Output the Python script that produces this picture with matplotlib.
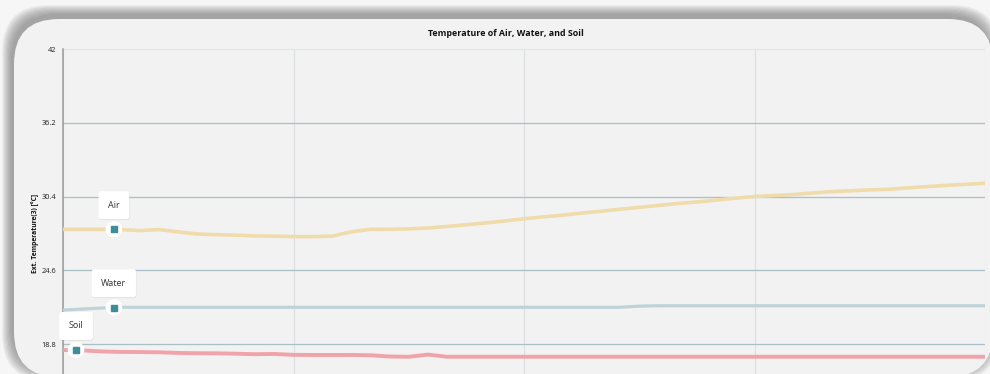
import numpy as np
import matplotlib
matplotlib.use("Agg")
import matplotlib.pyplot as plt
from matplotlib.patches import FancyBboxPatch
import matplotlib.patheffects as pe

plt.rcParams["font.family"] = ["Open Sans", "DejaVu Sans"]

# ---- data -------------------------------------------------------------
hours = list(range(49))

air = [27.82, 27.82, 27.82, 27.80, 27.72, 27.80, 27.62, 27.45, 27.40, 27.36,
       27.30, 27.28, 27.25, 27.25, 27.28, 27.62, 27.82, 27.82, 27.86, 27.92,
       28.05, 28.18, 28.32, 28.48, 28.65, 28.80, 28.93, 29.10, 29.24, 29.40,
       29.55, 29.70, 29.85, 29.97, 30.12, 30.27, 30.40, 30.48, 30.55, 30.68,
       30.78, 30.85, 30.92, 30.97, 31.08, 31.18, 31.28, 31.36, 31.44]

water = [21.47, 21.55, 21.63, 21.69, 21.69, 21.69, 21.69, 21.69, 21.69, 21.69,
         21.69, 21.69, 21.69, 21.69, 21.69, 21.69, 21.69, 21.69, 21.69, 21.69,
         21.69, 21.69, 21.69, 21.69, 21.69, 21.69, 21.69, 21.69, 21.69, 21.69,
         21.78, 21.81, 21.81, 21.81, 21.81, 21.81, 21.81, 21.81, 21.81, 21.81,
         21.81, 21.81, 21.81, 21.81, 21.81, 21.81, 21.81, 21.81, 21.81]

soil = [18.33, 18.30, 18.22, 18.18, 18.17, 18.15, 18.10, 18.08, 18.07, 18.04,
        18.00, 18.02, 17.95, 17.94, 17.94, 17.94, 17.92, 17.82, 17.80, 17.97,
        17.80, 17.80, 17.80, 17.80, 17.80, 17.80, 17.80, 17.80, 17.80, 17.80,
        17.80, 17.80, 17.80, 17.80, 17.80, 17.80, 17.80, 17.80, 17.80, 17.80,
        17.80, 17.80, 17.80, 17.80, 17.80, 17.80, 17.80, 17.80, 17.80]

series_names = ["Air", "Water", "Soil"]
label_hours = [2.65, 2.65, 0.68]

y_ticks = [18.8, 24.6, 30.4, 36.2, 42.0]
y_tick_labels = ["18.8", "24.6", "30.4", "36.2", "42"]
x_ticks = [0, 12, 24, 36, 48]
y_range = (13.0, 42.0)

title = "Temperature of Air, Water, and Soil"
y_title = "Ext. Temperature(3) [°C]"

# ---- styling ----------------------------------------------------------
line_colors = ["#f0dcaa", "#bed3d6", "#f0a3aa"]
line_widths = [2.6, 2.3, 2.8]
marker_color = "#3d8e97"
card_color = "#f2f2f2"

W, H, DPI = 990, 374, 100
fig = plt.figure(figsize=(W / DPI, H / DPI), dpi=DPI)
fig.patch.set_facecolor("#f6f6f6")

def px_box(x0, y0_top, x1, y1_bottom):
    # pixel box (top-left origin) -> inches box (bottom-left origin)
    return (x0 / DPI, (H - y1_bottom) / DPI,
            (x1 - x0) / DPI, (y1_bottom - y0_top) / DPI)

# soft shadow falling up and to the left of the card
for i in range(9):
    grow = i * 1.1
    bx, by, bw, bh = px_box(11 - grow, 14 - grow, 990 + grow, 372 + grow)
    fig.add_artist(FancyBboxPatch(
        (bx, by), bw, bh, boxstyle="round,pad=0,rounding_size=0.46",
        transform=fig.dpi_scale_trans, fc="#6e6e6e", ec="none",
        alpha=0.09, zorder=-3))

# the card itself
bx, by, bw, bh = px_box(14, 19, 993, 377)
fig.add_artist(FancyBboxPatch(
    (bx, by), bw, bh, boxstyle="round,pad=0,rounding_size=0.45",
    transform=fig.dpi_scale_trans, fc=card_color, ec="none", zorder=-2))

# ---- axes -------------------------------------------------------------
ax = fig.add_axes([63 / W, (H - 417.8) / H, 922 / W, (417.8 - 49) / H])
ax.set_facecolor("none")
ax.set_xlim(0, 48)
ax.set_ylim(*y_range)

ax.set_yticks(y_ticks)
ax.set_yticklabels(y_tick_labels)
ax.set_xticks(x_ticks)
ax.set_xticklabels([])
ax.tick_params(axis="both", length=0)
ax.tick_params(axis="y", pad=5, labelsize=5.3, labelcolor="#1e1e1e")

for side in ["top", "right", "bottom"]:
    ax.spines[side].set_visible(False)
ax.spines["left"].set_color("#9a9a9a")
ax.spines["left"].set_linewidth(1.1)

ax.yaxis.grid(True, color="#a9c0c8", linewidth=0.9)
ax.xaxis.grid(True, color="#dcdfe0", linewidth=0.8)
ax.set_axisbelow(True)
for gl, val in zip(ax.get_ygridlines(), y_ticks):
    if val == 42.0:
        gl.set_color("#dde4e6")

for vals, col, lw in zip([air, water, soil], line_colors, line_widths):
    ax.plot(hours, vals, color=col, linewidth=lw, solid_capstyle="round",
            solid_joinstyle="round", zorder=3)

# point markers with labels
halo_fx = [pe.SimplePatchShadow(offset=(0, -0.6), shadow_rgbFace="#9a9a9a",
                                alpha=0.35), pe.Normal()]
for name, vals, hx in zip(series_names, [air, water, soil], label_hours):
    hy = float(np.interp(hx, hours, vals))
    ax.plot([hx], [hy], marker="o", markersize=11, color="white",
            markeredgecolor="white", zorder=5, path_effects=halo_fx)
    ax.plot([hx], [hy], marker="s", markersize=5, color=marker_color,
            markeredgecolor=marker_color, zorder=6)
    ann = ax.annotate(name, xy=(hx, hy), xytext=(0, 17.5),
                      textcoords="offset points", ha="center", va="center",
                      fontsize=6.5, color="#333333", zorder=7,
                      bbox=dict(boxstyle="round,pad=1.05,rounding_size=0.25",
                                fc="white", ec="none"))
    ann.get_bbox_patch().set_path_effects(
        [pe.SimplePatchShadow(offset=(0.3, -0.6), shadow_rgbFace="#b0b0b0",
                              alpha=0.3), pe.Normal()])

ax.set_ylabel(y_title, fontsize=4.9, fontweight="bold", color="#111111")
ax.yaxis.set_label_coords((35 - 63) / 922, 0.5)
ax.yaxis.label.set_va("center")

fig.text(506 / W, 1 - 33 / H, title, ha="center", va="center",
         fontsize=6.4, fontweight="bold", color="#111111")

fig.savefig("out.png", dpi=DPI, facecolor=fig.get_facecolor())
